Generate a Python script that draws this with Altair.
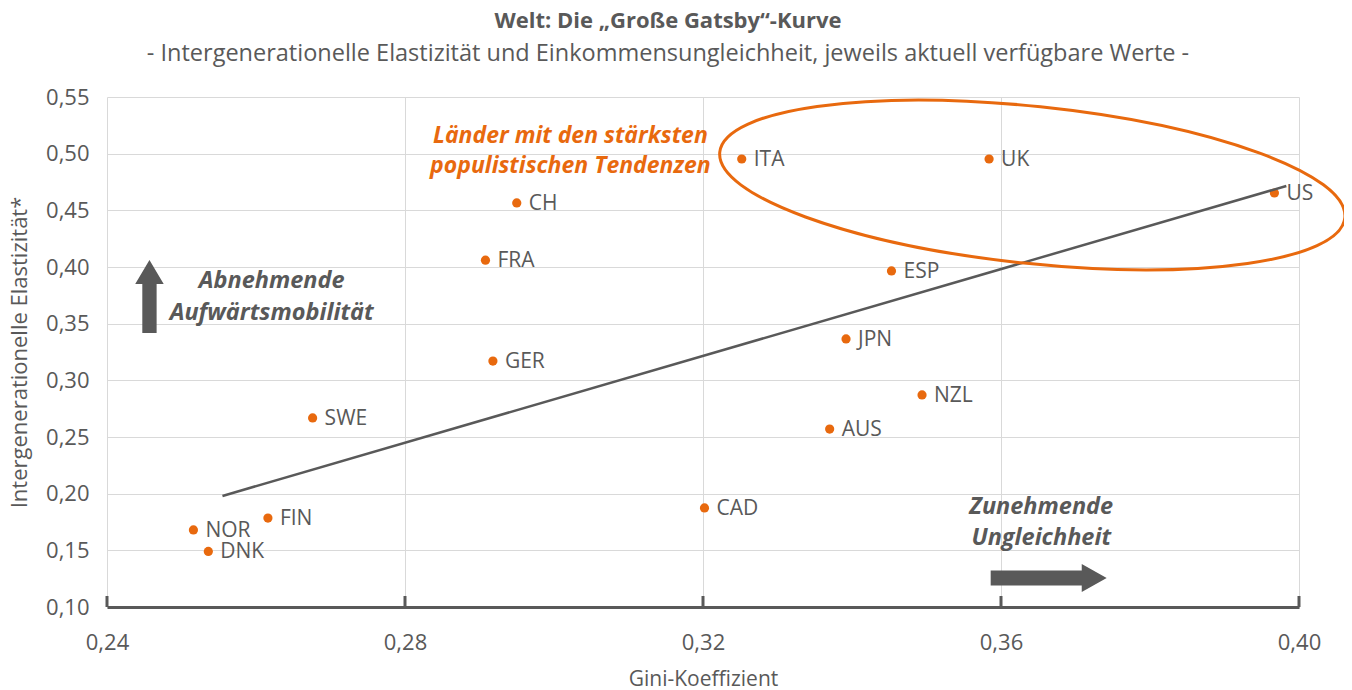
import altair as alt
import pandas as pd

# ---- data ----
countries = ["NOR", "DNK", "FIN", "SWE", "FRA", "GER", "CH", "CAD",
             "ITA", "AUS", "JPN", "ESP", "NZL", "UK", "US"]
gini = [0.2516, 0.2536, 0.2616, 0.2676, 0.2908, 0.2918, 0.2950, 0.3202,
        0.3252, 0.3370, 0.3392, 0.3453, 0.3494, 0.3584, 0.3967]
elasticity = [0.168, 0.149, 0.1785, 0.2668, 0.406, 0.317, 0.4565, 0.1874,
              0.4953, 0.257, 0.3365, 0.3965, 0.2871, 0.4953, 0.4653]
trend_gini = [0.2555, 0.3983]
trend_elasticity = [0.198, 0.4715]
x_ticks = [0.24, 0.28, 0.32, 0.36, 0.40]
y_ticks = [0.10, 0.15, 0.20, 0.25, 0.30, 0.35, 0.40, 0.45, 0.50, 0.55]

ORANGE = "#E8690E"
GRAY = "#595959"
GRID = "#D9D9D9"
FONT = "Open Sans"

df = pd.DataFrame({"country": countries, "gini": gini, "ige": elasticity})
trend_df = pd.DataFrame({"gini": trend_gini, "ige": trend_elasticity})
tick_df = pd.DataFrame({"tick": x_ticks})
one = pd.DataFrame({"k": [0]})

xscale = alt.Scale(domain=[0.24, 0.40], nice=False, zero=False)
yscale = alt.Scale(domain=[0.10, 0.55], nice=False, zero=False)

xaxis = alt.Axis(
    values=x_ticks,
    labelExpr="replace(format(datum.value, '.2f'), '.', ',')",
    grid=True, gridColor=GRID, gridWidth=1, labelFlush=False,
    ticks=False, domainColor=GRAY, domainWidth=3,
    labelFont=FONT, labelFontSize=22, labelColor=GRAY, labelPadding=25,
    title="Gini-Koeffizient", titleFont=FONT, titleFontSize=21,
    titleFontWeight="normal", titleColor=GRAY, titleY=82, titleBaseline="bottom",
)
yaxis = alt.Axis(
    values=y_ticks,
    labelExpr="replace(format(datum.value, '.2f'), '.', ',')",
    grid=True, gridColor=GRID, gridWidth=1, labelFlush=False,
    ticks=False, domain=False,
    labelFont=FONT, labelFontSize=22, labelColor=GRAY, labelPadding=18,
    title="Intergenerationelle Elastizität*", titleFont=FONT, titleFontSize=22,
    titleFontWeight="normal", titleColor=GRAY, titleX=-88, titleY=255,
    titleBaseline="middle", titleAlign="center",
)

points = alt.Chart(df).mark_circle(size=85, color=ORANGE, opacity=1).encode(
    x=alt.X("gini:Q", scale=xscale, axis=xaxis),
    y=alt.Y("ige:Q", scale=yscale, axis=yaxis),
)
labels = alt.Chart(df).mark_text(
    align="left", baseline="middle", dx=12, dy=1, font=FONT, fontSize=21, color=GRAY
).encode(x="gini:Q", y="ige:Q", text="country:N")

trend = alt.Chart(trend_df).mark_line(color=GRAY, strokeWidth=2.5).encode(
    x="gini:Q", y="ige:Q"
)

ticks = alt.Chart(tick_df).mark_rule(color=GRAY, strokeWidth=3).encode(
    x="tick:Q", y=alt.value(499), y2=alt.value(510)
)

ELLIPSE = "M -1 0 A 1 0.25 0 1 1 1 0 A 1 0.25 0 1 1 -1 0 Z"
ellipse = alt.Chart(one).mark_point(
    shape=ELLIPSE, size=395000, angle=6, filled=False,
    stroke=ORANGE, strokeWidth=3, opacity=1
).encode(x=alt.datum(0.3642), y=alt.datum(0.4724))

UP_ARROW = "M 0 -1 L 0.39 -0.34 L 0.196 -0.34 L 0.196 1 L -0.196 1 L -0.196 -0.34 L -0.39 -0.34 Z"
up_arrow = alt.Chart(one).mark_point(
    shape=UP_ARROW, size=5329, filled=True, color=GRAY, opacity=1, strokeWidth=0
).encode(x=alt.datum(0.2457), y=alt.datum(0.374))

RIGHT_ARROW = "M 1 0 L 0.57 -0.24 L 0.57 -0.13 L -1 -0.13 L -1 0.13 L 0.57 0.13 L 0.57 0.24 Z"
right_arrow = alt.Chart(one).mark_point(
    shape=RIGHT_ARROW, size=13456, filled=True, color=GRAY, opacity=1, strokeWidth=0
).encode(x=alt.datum(0.3664), y=alt.datum(0.1256))

txt_mob = alt.Chart(one).mark_text(
    text=["Abnehmende", "Aufwärtsmobilität"], align="center", baseline="middle",
    lineHeight=32, font=FONT, fontSize=23.5, fontWeight="bold", fontStyle="italic", color=GRAY
).encode(x=alt.datum(0.2621), y=alt.datum(0.3877))

txt_pop = alt.Chart(one).mark_text(
    text=["Länder mit den stärksten", "populistischen Tendenzen"], align="center",
    baseline="middle", lineHeight=30, font=FONT, fontSize=23, fontWeight="bold",
    fontStyle="italic", color=ORANGE
).encode(x=alt.datum(0.3022), y=alt.datum(0.5156))

txt_ineq = alt.Chart(one).mark_text(
    text=["Zunehmende", "Ungleichheit"], align="center", baseline="middle",
    lineHeight=31, font=FONT, fontSize=23.5, fontWeight="bold", fontStyle="italic", color=GRAY
).encode(x=alt.datum(0.3654), y=alt.datum(0.1882))

chart = alt.layer(
    points, trend, ticks, labels, ellipse, up_arrow, right_arrow,
    txt_mob, txt_pop, txt_ineq
).properties(
    width=1192, height=510,
    autosize=alt.AutoSizeParams(type="none"),
    padding={"left": 99, "top": 89, "right": 45, "bottom": 83},
    title=alt.TitleParams(
        text="Welt: Die „Große Gatsby“-Kurve",
        subtitle="- Intergenerationelle Elastizität und Einkommensungleichheit, jeweils aktuell verfügbare Werte -",
        font=FONT, fontSize=22, fontWeight="bold", color=GRAY,
        subtitleFont=FONT, subtitleFontSize=23.5, subtitleColor=GRAY,
        anchor="middle", dx=-35, offset=20, subtitlePadding=9,
    ),
).configure_view(stroke=None)

chart.save("out.html", embed_options={"renderer": "svg", "actions": False})
